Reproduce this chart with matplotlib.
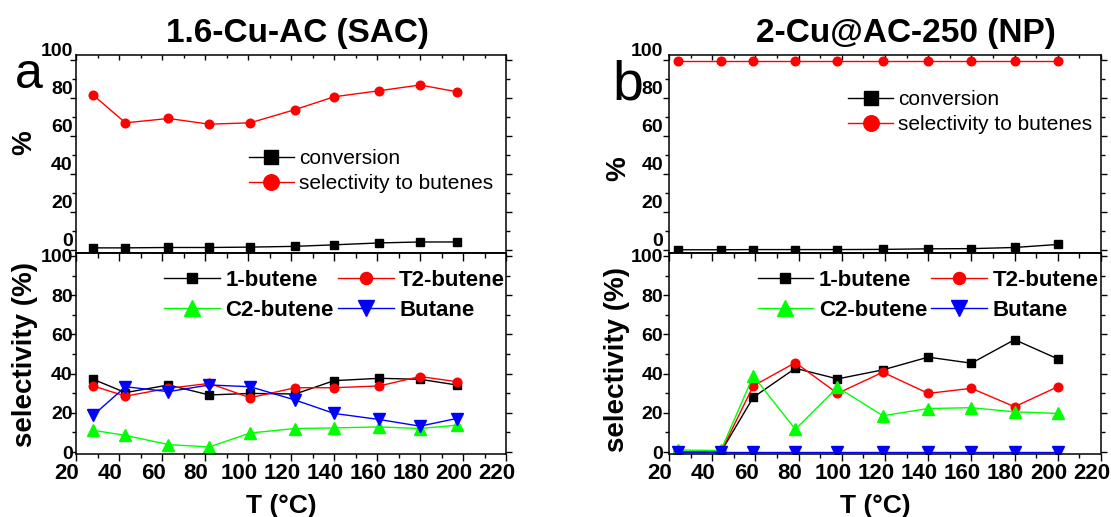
import matplotlib
matplotlib.use('Agg')
import matplotlib.pyplot as plt
from matplotlib.transforms import ScaledTranslation
from matplotlib.ticker import MultipleLocator

plt.rcParams['font.family'] = ['Liberation Sans', 'DejaVu Sans']

# ---------------- data ----------------
T_sac = [28, 43, 63, 82, 101, 122, 140, 161, 180, 197]
conv_sac = [1.1, 1.1, 1.3, 1.3, 1.5, 1.9, 2.7, 3.7, 4.2, 4.2]
selbut_sac = [81.5, 66.9, 69.2, 66.2, 66.9, 73.9, 80.6, 83.8, 86.8, 83.3]
but1_sac = [37.1, 30.3, 34.2, 29.1, 29.9, 29.6, 36.4, 37.6, 37.1, 34.2]
t2_sac = [33.7, 28.5, 32.5, 35.0, 27.7, 32.8, 32.8, 33.7, 38.5, 35.9]
c2_sac = [11.1, 8.5, 3.8, 2.6, 9.7, 12.0, 12.3, 12.8, 12.0, 13.7]
butane_sac = [18.8, 33.3, 30.8, 34.2, 33.3, 26.5, 19.7, 16.6, 13.2, 17.1]

T_np = [24, 44, 59, 78.5, 98, 119, 140, 160, 180, 200]
conv_np = [0.1, 0.1, 0.2, 0.2, 0.2, 0.3, 0.6, 0.7, 1.3, 2.9]
selbut_np = [99.6, 99.6, 99.6, 99.6, 99.6, 99.6, 99.6, 99.6, 99.6, 99.6]
but1_np = [0, 0, 27.9, 42.7, 37.3, 41.9, 48.4, 45.3, 57.3, 47.5]
t2_np = [0, 0, 33.7, 45.6, 29.9, 40.7, 29.9, 32.5, 23.1, 33.3]
c2_np = [1.0, 0.8, 38.8, 11.6, 33.0, 18.5, 22.2, 22.6, 20.5, 19.7]
butane_np = [0, 0, 0, 0, 0, 0, 0, 0, 0, 0]

titles = ['1.6-Cu-AC (SAC)', '2-Cu@AC-250 (NP)']
panel_letters = ['a', 'b']
top_labels = ['conversion', 'selectivity to butenes']
bot_labels = ['1-butene', 'T2-butene', 'C2-butene', 'Butane']
xticks = [20, 40, 60, 80, 100, 120, 140, 160, 180, 200, 220]
yticks = [0, 20, 40, 60, 80, 100]

# ---------------- figure ----------------
W, H = 1111, 517
fig = plt.figure(figsize=(W / 100, H / 100), dpi=100)


def fx(px):
    return px / W


def fy(py):
    return 1 - py / H


col_x = [(76, 506), (669, 1101)]
top_y = (55, 253)
bot_y = (253, 454)

datasets = [
    (T_sac, conv_sac, selbut_sac, but1_sac, t2_sac, c2_sac, butane_sac),
    (T_np, conv_np, selbut_np, but1_np, t2_np, c2_np, butane_np),
]

title_x = [0.516, 0.549]
pct_coords = [(-0.121, 0.556), (-0.118, 0.424)]
sel_coords = [(-0.119, 0.4975), (-0.120, 0.468)]
xlab_coords = [(0.477, -0.20), (0.477, -0.20)]
toplegend_anchor = [(0.402, 0.525), (0.415, 0.823)]
ylab_pad = [-2.2, -0.2]
letter_pos = [(15, 88, 36), (612, 100, 40)]

ms_sq, ms_ci, ms_tr = 5.3, 6.2, 8.0
lw = 1.0


def style_y(ax, pad):
    ax.set_yticks(yticks)
    ax.yaxis.set_minor_locator(MultipleLocator(10))
    ax.tick_params(axis='y', which='both', left=True, right=True,
                   direction='out', width=1.0, labelsize=14, pad=pad)
    ax.tick_params(axis='y', which='major', length=4.6)
    ax.tick_params(axis='y', which='minor', length=2.6)
    for lab in ax.get_yticklabels():
        lab.set_fontweight('bold')


for i in range(2):
    T, conv, sel, b1, t2, c2, bt = datasets[i]
    x0, x1 = col_x[i]
    ax_t = fig.add_axes([fx(x0), fy(top_y[1]), fx(x1 - x0), (top_y[1] - top_y[0]) / H])
    ax_b = fig.add_axes([fx(x0), fy(bot_y[1]), fx(x1 - x0), (bot_y[1] - bot_y[0]) / H])

    for ax in (ax_t, ax_b):
        ax.set_xlim(20, 220)
        ax.set_xticks(xticks)
        ax.xaxis.set_minor_locator(MultipleLocator(10))
        for sp in ax.spines.values():
            sp.set_linewidth(1.1)

    ax_t.set_ylim(-1.6, 102.6)
    ax_b.set_ylim(-1.0, 101.5)

    # top panel
    l1, = ax_t.plot(T, conv, '-s', color='black', ms=ms_sq, lw=lw)
    l2, = ax_t.plot(T, sel, '-o', color='#ff0000', ms=ms_ci, lw=lw)
    ax_t.legend([l1, l2], top_labels, loc='upper left',
                bbox_to_anchor=toplegend_anchor[i], frameon=False,
                borderpad=0, borderaxespad=0, handlelength=2.15,
                handletextpad=0.26, labelspacing=0.3, markerscale=1.8,
                prop={'size': 15})
    ax_t.tick_params(axis='x', which='both', bottom=False, top=True,
                     direction='in', labelbottom=False, width=1.0)
    ax_t.tick_params(axis='x', which='major', length=3.5)
    ax_t.tick_params(axis='x', which='minor', length=2.5)
    style_y(ax_t, ylab_pad[i])
    ax_t.set_title(titles[i], fontsize=24, fontweight='bold', x=title_x[i], pad=9)
    ax_t.set_ylabel('%', fontsize=20, fontweight='bold', va='center')
    ax_t.yaxis.set_label_coords(*pct_coords[i])

    # bottom panel
    h1, = ax_b.plot(T, b1, '-s', color='black', ms=ms_sq, lw=lw)
    h2, = ax_b.plot(T, t2, '-o', color='#ff0000', ms=ms_ci, lw=lw)
    h3, = ax_b.plot(T, c2, '-^', color='#00ff00', ms=ms_tr, lw=lw)
    h4, = ax_b.plot(T, bt, '-v', color='#0000ff', ms=ms_tr, lw=lw)
    ax_b.legend([h1, h3, h2, h4], [bot_labels[0], bot_labels[2], bot_labels[1], bot_labels[3]],
                ncol=2, loc='upper left', bbox_to_anchor=(0.205, 0.915),
                frameon=False, borderpad=0, borderaxespad=0,
                handlelength=2.5, handletextpad=0.25, labelspacing=0.4,
                columnspacing=0.2, markerscale=1.4,
                prop={'size': 16, 'weight': 'bold'})
    ax_b.tick_params(axis='x', which='both', bottom=True, top=False,
                     direction='out', width=1.0, labelsize=16, pad=1.5)
    ax_b.tick_params(axis='x', which='major', length=5)
    ax_b.tick_params(axis='x', which='minor', length=3)
    sec = ax_b.secondary_xaxis('top')
    sec.set_xticks(xticks)
    sec.xaxis.set_minor_locator(MultipleLocator(10))
    sec.tick_params(axis='x', which='both', direction='in', labeltop=False, width=1.0)
    sec.tick_params(axis='x', which='major', length=6)
    sec.tick_params(axis='x', which='minor', length=3.5)
    sec.spines['top'].set_linewidth(1.1)
    for lab in ax_b.get_xticklabels():
        lab.set_fontweight('bold')
    style_y(ax_b, ylab_pad[i])
    ax_b.set_xlabel('T (°C)', fontsize=19, fontweight='bold')
    ax_b.xaxis.set_label_coords(*xlab_coords[i])
    ax_b.set_ylabel('selectivity (%)', fontsize=20, fontweight='bold', va='center')
    ax_b.yaxis.set_label_coords(*sel_coords[i])

    # tick-label offsets as in the original export
    offx = ScaledTranslation(-0.09, 0, fig.dpi_scale_trans)
    for tk in ax_b.xaxis.get_major_ticks():
        tk.label1.set_transform(tk.label1.get_transform() + offx)
    offy = ScaledTranslation(0, 0.10, fig.dpi_scale_trans)
    for tk in ax_t.yaxis.get_major_ticks():
        tk.label1.set_transform(tk.label1.get_transform() + offy)

    lx, ly, lsz = letter_pos[i]
    fig.text(fx(lx), fy(ly), panel_letters[i], fontsize=lsz, va='baseline', ha='left')

fig.savefig('out.png', dpi=100)
